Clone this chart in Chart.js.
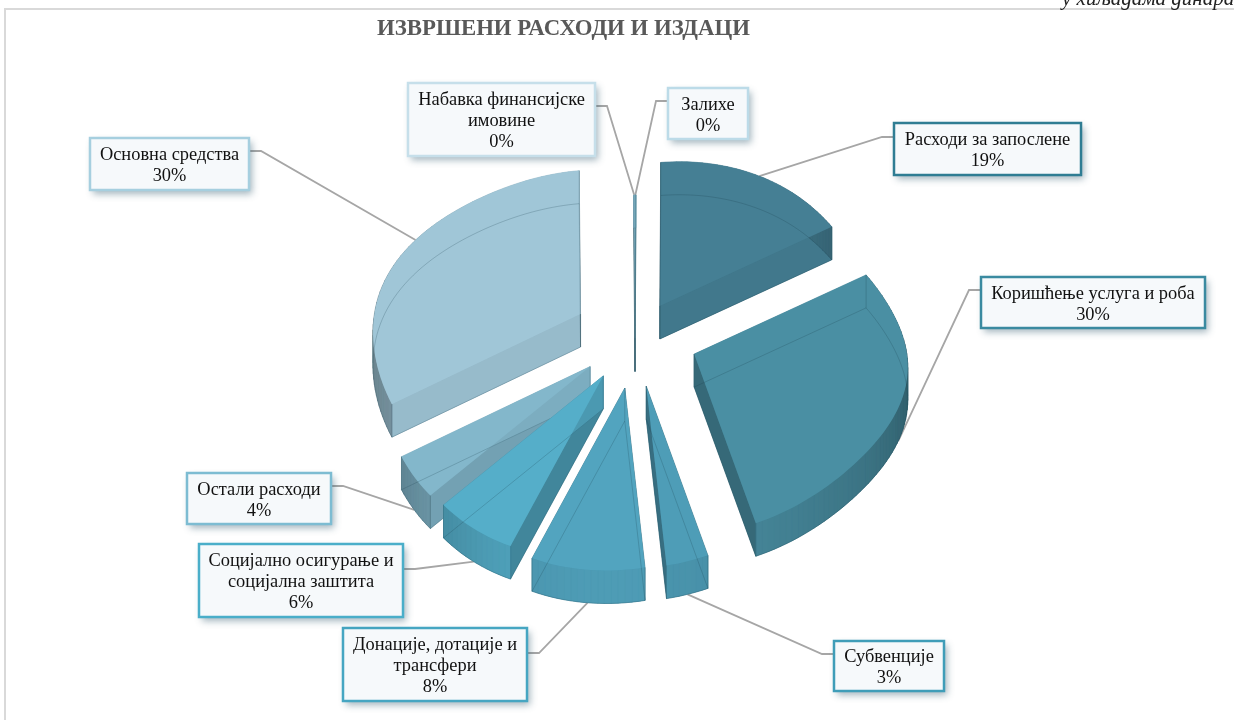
<!DOCTYPE html>
<html lang="sr">
<head>
  <meta charset="UTF-8" />
  <title>Извршени расходи и издаци</title>
  <script src="https://cdn.jsdelivr.net/npm/chart.js"></script>
  <style>
    html, body { margin: 0; background: #fff; overflow: hidden; }
    #frame { position: absolute; left: 4px; top: 8px; width: 1300px; height: 800px; border: 2px solid #d9d9d9; }
    canvas { position: absolute; left: 0; top: 0; }
  </style>
</head>
<body>
  <div id="frame"></div>
  <canvas id="chart" width="1234" height="720"></canvas>
  <script>
    const categories = [['Расходи за запослене'], ['Коришћење услуга и роба'], ['Субвенције'],
      ['Донације, дотације и', 'трансфери'], ['Социјално осигурање и', 'социјална заштита'],
      ['Остали расходи'], ['Основна средства'], ['Набавка финансијске', 'имовине'], ['Залихе']];
    const shares = [19, 30, 3, 8, 6, 4, 30, 0.1, 0.1];
    const total = shares.reduce((a, b) => a + b, 0);

    const sliceColors = ['#457f94', '#4a8fa3', '#4e9db7', '#52a4bf', '#55aec9', '#83b7cb', '#a0c6d7', '#8fc3d6', '#6fb4cc'];
    const borderColors = ['#2f7d93', '#3a8aa0', '#3f9db8', '#46a6c2', '#4aaec9', '#7dbcd2', '#a6cfdf', '#c6dfea', '#bcdbe8'];
    const explodeRatios = [0.25, 0.29, 0.273, 0.273, 0.245, 0.255, 0.33, 0, 0];

    // fake 3D view of the pie, worked out against the picture
    const CENTER = { x: 635, y: 338.4 };
    const TILT = [198.5, 1, -14.7, -160.41, -0.0028, 0.1179];
    const WARP = 0.215;
    const BULGE = 0.07;
    const DEPTH = 33;

    function tiltDir(t) {
      const a = t - WARP * (1 - Math.cos(t)) / 2;
      const u = Math.sin(a), v = Math.cos(a), w = TILT[4] * u + TILT[5] * v + 1;
      const c = Math.cos(t - 1.97);
      const f = 1 + BULGE * Math.pow(c, 8);
      return { x: f * (TILT[0] * u + TILT[1] * v) / w, y: f * (TILT[2] * u + TILT[3] * v) / w };
    }

    function shade(hex, f) {
      const n = parseInt(hex.slice(1), 16);
      return 'rgb(' + [n >> 16, (n >> 8) & 255, n & 255].map(c => Math.round(c * f)).join(',') + ')';
    }

    function sliceGeometry(arc, index) {
      const a0 = arc.startAngle + Math.PI / 2, a1 = arc.endAngle + Math.PI / 2, mid = (a0 + a1) / 2;
      const md = tiltDir(mid);
      const apex = { x: CENTER.x + explodeRatios[index] * md.x, y: CENTER.y + explodeRatios[index] * md.y };
      const pt = t => { const d = tiltDir(t); return { x: apex.x + d.x, y: apex.y + d.y }; };
      const rim = [];
      const steps = Math.max(2, Math.ceil((a1 - a0) / 0.03));
      for (let i = 0; i <= steps; i++) rim.push(pt(a0 + (a1 - a0) * i / steps));
      return { apex, rim, mid, pt };
    }

    function poly(ctx, pts) {
      ctx.beginPath();
      pts.forEach((p, i) => i ? ctx.lineTo(p.x, p.y) : ctx.moveTo(p.x, p.y));
      ctx.closePath();
    }

    const down = p => ({ x: p.x, y: p.y + DEPTH });

    function wallShade(a, b) {
      const dx = b.x - a.x, dy = b.y - a.y, len = Math.hypot(dx, dy) || 1;
      return 1 - 0.3 * (dy / len) * (dy / len);
    }

    function drawWall(ctx, a, b, color, f) {
      ctx.fillStyle = ctx.strokeStyle = shade(color, f);
      ctx.lineWidth = 0.6;
      poly(ctx, [a, b, down(b), down(a)]);
      ctx.fill();
      ctx.stroke();
    }

    function drawSlice(ctx, arc, index) {
      const color = arc.options.backgroundColor;
      const g = sliceGeometry(arc, index);
      const first = g.rim[0], last = g.rim[g.rim.length - 1];
      ctx.fillStyle = shade(color, 0.9);
      poly(ctx, [g.apex, ...g.rim].map(down));
      ctx.fill();
      drawWall(ctx, g.apex, first, color, wallShade(g.apex, first));
      drawWall(ctx, g.apex, last, color, wallShade(g.apex, last));
      for (let i = 0; i < g.rim.length - 1; i++) {
        drawWall(ctx, g.rim[i], g.rim[i + 1], color, 0.95 * wallShade(g.rim[i], g.rim[i + 1]));
      }
      ctx.fillStyle = color;
      poly(ctx, [g.apex, ...g.rim]);
      ctx.fill();
      // see-through edges of the lower face
      ctx.strokeStyle = 'rgba(25,60,75,0.28)';
      ctx.lineWidth = 0.8;
      poly(ctx, [g.apex, ...g.rim].map(down));
      [first, last, g.apex].forEach(p => { ctx.moveTo(p.x, p.y); ctx.lineTo(p.x, p.y + DEPTH); });
      ctx.stroke();
    }

    const calloutBoxes = [
      { x: 894, y: 123, w: 187, h: 52, side: 'left', ay: 137 },
      { x: 981, y: 277, w: 224, h: 51, side: 'left', ay: 290 },
      { x: 834, y: 641, w: 110, h: 50, side: 'left', ay: 654 },
      { x: 343, y: 628, w: 184, h: 73, side: 'right', ay: 653 },
      { x: 199, y: 544, w: 204, h: 73, side: 'right', ay: 569 },
      { x: 187, y: 473, w: 144, h: 51, side: 'right', ay: 486 },
      { x: 90, y: 138, w: 159, h: 52, side: 'right', ay: 151 },
      { x: 408, y: 83, w: 187, h: 73, side: 'right', ay: 106 },
      { x: 668, y: 88, w: 80, h: 51, side: 'left', ay: 101 }
    ];
    const ELBOW = 12;

    const piePlugin = {
      id: 'pie3d',
      beforeDatasetDraw(chart) {
        const ctx = chart.ctx, arcs = chart.getDatasetMeta(0).data;
        ctx.save();
        // leader lines go under the slices
        ctx.strokeStyle = '#a6a6a6';
        ctx.lineWidth = 1.8;
        arcs.forEach((arc, i) => {
          const box = calloutBoxes[i], g = sliceGeometry(arc, i);
          let end = g.pt(g.mid);
          if (Math.cos(g.mid) < 0) end = down(end);
          const bx = box.side === 'left' ? box.x : box.x + box.w;
          const ex = box.side === 'left' ? bx - ELBOW : bx + ELBOW;
          ctx.beginPath();
          ctx.moveTo(bx, box.ay);
          ctx.lineTo(ex, box.ay);
          ctx.lineTo(end.x, end.y);
          ctx.stroke();
        });
        // back slices first
        const order = arcs.map((arc, i) => i).sort((a, b) =>
          Math.cos(sliceGeometry(arcs[b], b).mid) - Math.cos(sliceGeometry(arcs[a], a).mid));
        order.forEach(i => drawSlice(ctx, arcs[i], i));
        ctx.restore();
        return false;
      },
      afterDraw(chart) {
        const ctx = chart.ctx;
        ctx.save();
        calloutBoxes.forEach((box, i) => {
          ctx.save();
          ctx.shadowColor = 'rgba(50,90,110,0.45)';
          ctx.shadowBlur = 7;
          ctx.shadowOffsetX = 3;
          ctx.shadowOffsetY = 4;
          ctx.fillStyle = '#f6f9fb';
          ctx.fillRect(box.x, box.y, box.w, box.h);
          ctx.restore();
          ctx.strokeStyle = borderColors[i];
          ctx.lineWidth = 2.5;
          ctx.strokeRect(box.x, box.y, box.w, box.h);
          const lines = [...categories[i], Math.round(shares[i] / total * 100) + '%'];
          ctx.fillStyle = '#111';
          ctx.font = '18.4px "Liberation Serif"';
          ctx.textAlign = 'center';
          ctx.textBaseline = 'alphabetic';
          const top = box.y + box.h / 2 - lines.length * 21 / 2;
          lines.forEach((t, k) => ctx.fillText(t, box.x + box.w / 2, top + 17 + k * 21));
        });
        ctx.fillStyle = '#222';
        ctx.font = 'italic 21px "Liberation Serif"';
        ctx.textAlign = 'left';
        ctx.fillText('у хиљадама динара', 1062, 5);
        ctx.restore();
      }
    };

    new Chart(document.getElementById('chart'), {
      type: 'pie',
      data: {
        labels: categories,
        datasets: [{ data: shares, backgroundColor: sliceColors }]
      },
      options: {
        responsive: false,
        animation: false,
        layout: { padding: { left: 377, top: 15 } },
        plugins: {
          legend: { display: false },
          tooltip: { enabled: false },
          title: {
            display: true,
            text: 'ИЗВРШЕНИ РАСХОДИ И ИЗДАЦИ',
            align: 'start',
            color: '#595959',
            font: { family: '"Liberation Serif"', size: 22.8, weight: 'bold' },
            padding: 0
          }
        }
      },
      plugins: [piePlugin]
    });
  </script>
</body>
</html>
